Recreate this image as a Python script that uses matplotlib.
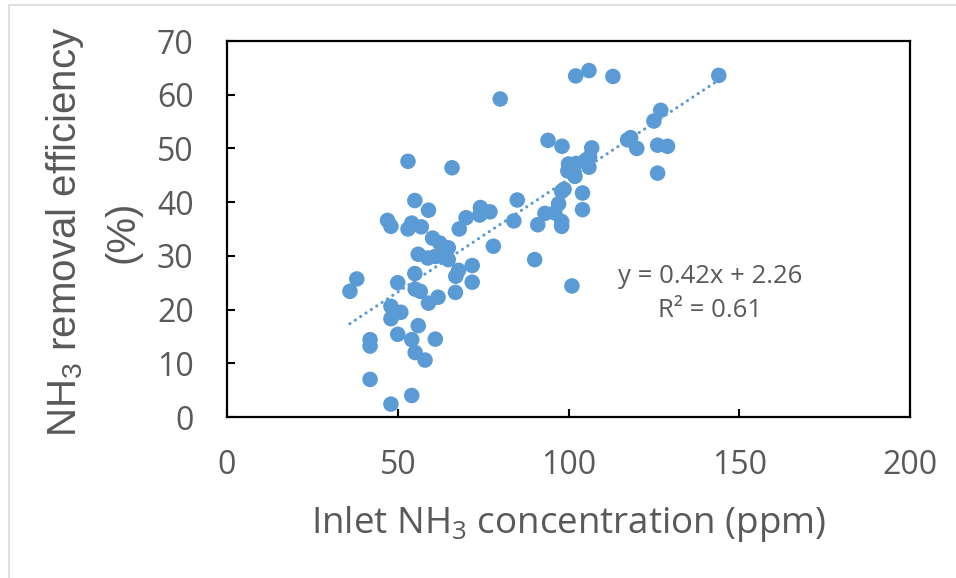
import numpy as np
import matplotlib
matplotlib.use("Agg")
import matplotlib.pyplot as plt
from matplotlib.patches import Rectangle

# inlet NH3 concentration (ppm) and removal efficiency (%)
inlet_ppm = [
    144.0, 102.1, 106.0, 113.0, 80.0, 127.0, 125.0, 117.3, 118.2, 120.0,
    126.1, 129.0, 126.1, 94.0, 98.1, 106.8, 106.2, 105.0, 100.0, 102.2,
    106.0, 99.8, 101.9, 98.7, 98.0, 104.1, 104.1, 97.1, 96.0, 93.1,
    98.0, 98.0, 91.0, 85.0, 84.0, 90.1, 101.0, 78.0, 77.0, 74.2,
    74.0, 70.0, 68.0, 71.8, 71.8, 67.8, 67.0, 66.9, 65.9, 53.0,
    55.0, 59.0, 47.0, 48.0, 53.0, 54.1, 56.9, 60.2, 62.3, 64.8,
    63.5, 62.0, 56.0, 58.8, 61.0, 64.8, 55.0, 55.1, 56.6, 59.0,
    61.8, 50.0, 38.0, 36.0, 48.0, 48.8, 50.9, 48.0, 56.0, 50.0,
    54.1, 61.0, 41.9, 41.9, 55.1, 58.0, 41.9, 54.1, 48.0,
]
removal_pct = [
    63.6, 63.5, 64.5, 63.4, 59.2, 57.1, 55.1, 51.6, 52.0, 50.0,
    50.6, 50.4, 45.4, 51.5, 50.4, 50.1, 48.4, 47.8, 47.1, 47.2,
    46.5, 45.8, 44.8, 42.4, 42.0, 41.7, 38.6, 39.7, 38.0, 37.9,
    36.4, 35.5, 35.8, 40.4, 36.5, 29.3, 24.4, 31.8, 38.2, 39.0,
    37.6, 37.1, 35.0, 28.2, 25.1, 27.3, 26.2, 23.2, 46.4, 47.6,
    40.3, 38.5, 36.6, 35.5, 35.0, 36.1, 35.4, 33.3, 32.4, 31.5,
    30.8, 30.0, 30.3, 29.6, 29.9, 29.3, 26.7, 23.8, 23.4, 21.2,
    22.3, 25.0, 25.7, 23.4, 20.6, 19.5, 19.5, 18.3, 17.0, 15.4,
    14.4, 14.5, 14.4, 13.2, 12.0, 10.6, 7.0, 4.0, 2.4,
]

# linear trendline reported on the chart
slope = 0.42
intercept = 2.26
r_squared = 0.61

x_ticks = [0, 50, 100, 150, 200]
y_ticks = [0, 10, 20, 30, 40, 50, 60, 70]

blue = "#5B9BD5"
grey = "#595959"

plt.rcParams["font.family"] = ["Open Sans", "DejaVu Sans"]

fig = plt.figure(figsize=(9.56, 5.78), dpi=100)
W, H = 956, 578

# light chart-area border
fig.patches.append(Rectangle((9 / W, -0.01), 1.02, 1 - 5 / H + 0.01,
                             transform=fig.transFigure, fill=False,
                             edgecolor="#D9D9D9", linewidth=1.2))

ax = fig.add_axes([227 / W, 1 - 417 / H, (910 - 227) / W, (417 - 41) / H])

x = np.array(inlet_ppm)
y = np.array(removal_pct)
ax.scatter(x, y, s=125, color=blue, edgecolors="none", zorder=3)

# dotted trendline over the range of the data
xt = np.array([x.min(), x.max()])
ax.plot(xt, slope * xt + intercept, color=blue, lw=2.3,
        linestyle=(0, (0.01, 2.0)), dash_capstyle="round", zorder=4)

ax.text(141.4, 26.2, f"y = {slope:.2f}x + {intercept:.2f}", ha="center",
        va="center", fontsize=18.5, color=grey)
ax.text(141.4, 19.8, f"R² = {r_squared:.2f}", ha="center", va="center",
        fontsize=18.5, color=grey)

ax.set_xlim(0, 200)
ax.set_ylim(0, 70)
ax.set_xticks(x_ticks)
ax.set_yticks(y_ticks)
ax.tick_params(direction="in", length=6, width=1.5, color="black",
               labelsize=23, labelcolor=grey)
ax.tick_params(axis="x", pad=23)
ax.tick_params(axis="y", pad=24)
for sp in ax.spines.values():
    sp.set_color("black")
    sp.set_linewidth(1.6)

fig.text(569 / W, 1 - 524 / H, r"Inlet NH$_\mathregular{3}$ concentration (ppm)",
         ha="center", va="center", fontsize=26.5, color=grey)
fig.text(65 / W, 1 - 232 / H, r"NH$_\mathregular{3}$ removal efficiency",
         ha="center", va="center", rotation=90, fontsize=29, color=grey,
         family="Liberation Sans")
fig.text(122 / W, 1 - 232 / H, "(%)", ha="center", va="center", rotation=90,
         fontsize=29, color=grey, family="Liberation Sans")

fig.savefig("out.png", dpi=100)
